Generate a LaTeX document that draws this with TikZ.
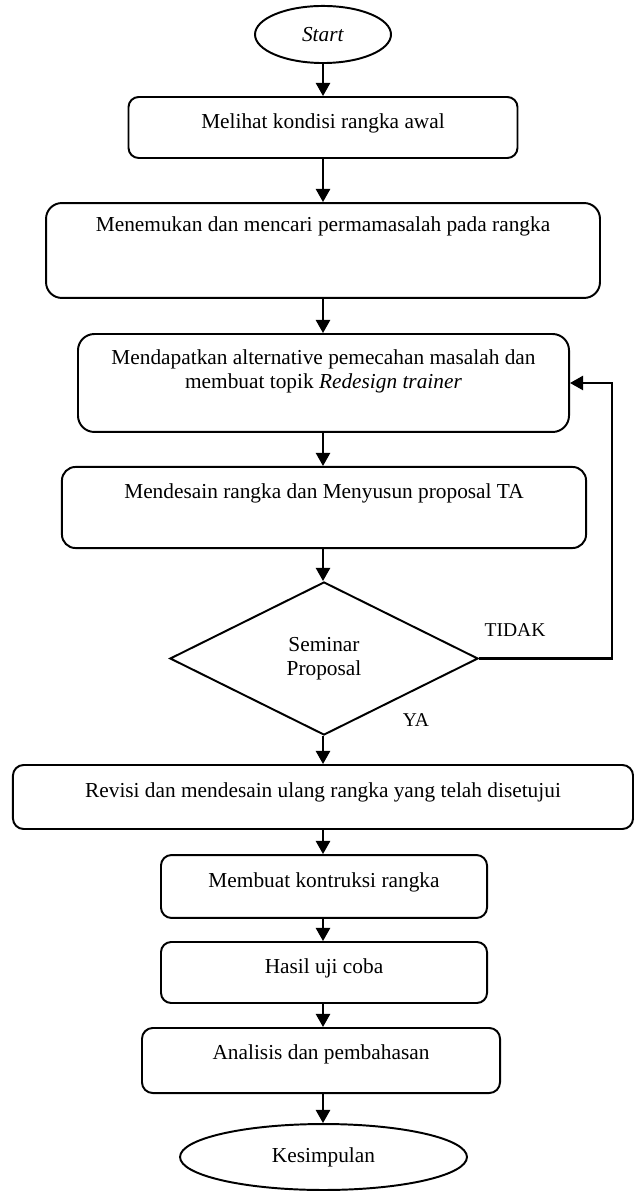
\documentclass[tikz,border=0pt]{standalone}
\usepackage{fontspec}
\setmainfont{Liberation Serif}
\usetikzlibrary{shapes.geometric,arrows.meta}
\begin{document}
\begin{tikzpicture}[x=0.5625pt,y=-0.5625pt,
  every node/.style={font=\fontsize{12}{13.8}\selectfont},
  box/.style={draw, line width=1.1pt, inner sep=0pt, text height=9pt, align=center},
  term/.style={draw, ellipse, line width=1.1pt, inner sep=0pt},
  decision/.style={draw, diamond, line width=1.1pt, inner sep=0pt, align=center},
  arr/.style={line width=1.2pt, -{Triangle[length=7.4pt,width=8pt]}},
  lab/.style={font=\fontsize{11}{13}\selectfont}]
\useasboundingbox (0,0) rectangle (634,1191);

\node[term, minimum width=76.5pt, minimum height=32.1pt] (start) at (323,34.5) {\textit{Start}};
\node[box, rounded corners=5.7pt, minimum width=218.8pt, minimum height=34.3pt, text depth=8pt] (b1) at (323,127.5) {Melihat kondisi rangka awal};
\node[box, rounded corners=8.9pt, minimum width=311.6pt, minimum height=53.4pt, text depth=30.6pt] (b2) at (323,250.5) {Menemukan dan mencari permamasalah pada rangka};
\node[box, rounded corners=9.2pt, minimum width=276.2pt, minimum height=55.1pt] (b3) at (323.5,383) {Mendapatkan alternative pemecahan masalah dan\\ membuat topik \textit{Redesign trainer}};
\node[box, rounded corners=7.6pt, minimum width=294.8pt, minimum height=45.6pt, text depth=19.4pt] (b4) at (324,507.5) {Mendesain rangka dan Menyusun proposal TA};
\node[decision, minimum width=173.3pt, minimum height=86.1pt] (dec) at (324,658.5) {Seminar\\ Proposal};
\node[box, rounded corners=6pt, minimum width=348.8pt, minimum height=36pt, text depth=8.6pt] (rev) at (323,797) {Revisi dan mendesain ulang rangka yang telah disetujui};
\node[box, rounded corners=5.9pt, minimum width=183.4pt, minimum height=35.4pt, text depth=8pt] (kon) at (324,886.5) {Membuat kontruksi rangka};
\node[box, rounded corners=5.7pt, minimum width=183.4pt, minimum height=34.3pt, text depth=8pt] (has) at (324,972.5) {Hasil uji coba};
\node[box, rounded corners=6.1pt, minimum width=201.4pt, minimum height=36.6pt, text depth=10.4pt] (ana) at (321,1060.5) {Analisis dan pembahasan};
\node[term, minimum width=161.4pt, minimum height=37.1pt] (kes) at (323.5,1157) {Kesimpulan};

\node[lab] (tidak) at (515,630) {TIDAK};
\node[lab] (ya) at (416,720) {YA};
\coordinate (fb) at (612,0);

\draw[arr] (start.south -| 323,0) -- (323,0 |- b1.north);
\draw[arr] (b1.south -| 323,0) -- (323,0 |- b2.north);
\draw[arr] (b2.south -| 323,0) -- (323,0 |- b3.north);
\draw[arr] (b3.south -| 323,0) -- (323,0 |- b4.north);
\draw[arr] (b4.south -| 323,0) -- (323,0 |- dec.north);
\draw[arr] (dec.south -| 323,0) -- (323,0 |- rev.north);
\draw[arr] (rev.south -| 323,0) -- (323,0 |- kon.north);
\draw[arr] (kon.south -| 323,0) -- (323,0 |- has.north);
\draw[arr] (has.south -| 323,0) -- (323,0 |- ana.north);
\draw[arr] (ana.south -| 323,0) -- (323,0 |- kes.north);
\draw[arr] (dec.east) -- (dec.east -| fb) |- (b3.east);
\end{tikzpicture}
\end{document}
